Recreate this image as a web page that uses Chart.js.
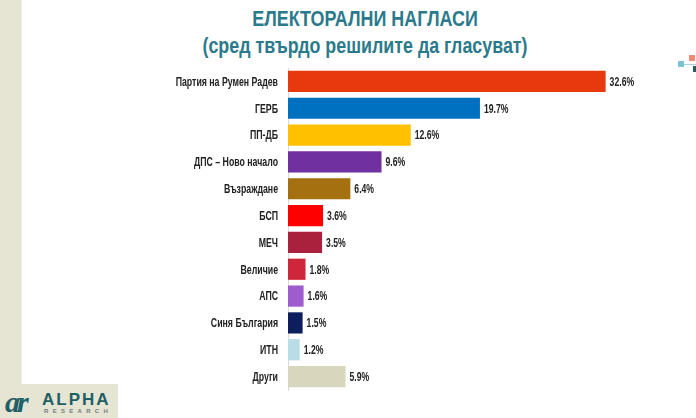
<!DOCTYPE html>
<html>
<head>
<meta charset="utf-8">
<script src="https://cdn.jsdelivr.net/npm/chart.js@4.4.1/dist/chart.umd.min.js"></script>
<style>
  html,body{margin:0;padding:0;background:#fff;}
  body{width:696px;height:418px;position:relative;overflow:hidden;font-family:"Liberation Sans",Arial,sans-serif;}
  #strip{position:absolute;left:0;top:0;width:21px;height:384px;background:#e6e4d3;border-right:1px solid #eeeee4;}
  #logo{position:absolute;left:0;top:384px;width:118px;height:34px;background:#e6e4d3;}
  #logo .ic{position:absolute;left:5px;top:1px;font:italic bold 30px "Liberation Serif",serif;color:#1f5f66;letter-spacing:-3px;}
  #logo .a{position:absolute;left:42px;top:6px;font:bold 17px "Liberation Sans",Arial,sans-serif;color:#1f5f66;letter-spacing:2px;}
  #logo .r{position:absolute;left:44px;top:24px;font:bold 6px "Liberation Sans",Arial,sans-serif;color:#6d7b7d;letter-spacing:4.3px;}
  .t{position:absolute;left:17px;width:696px;text-align:center;color:#2b7a8b;font-weight:bold;transform:scaleX(0.8);transform-origin:50% 0;}
  #t1{top:6px;font-size:22.4px;}
  #t2{top:33px;font-size:22.3px;}
  .sq{position:absolute;width:6px;height:6px;}
  #box{position:absolute;left:0;top:0;width:696px;height:418px;}
</style>
</head>
<body>
<div id="strip"></div>
<div class="t" id="t1">ЕЛЕКТОРАЛНИ НАГЛАСИ</div>
<div class="t" id="t2">(сред твърдо решилите да гласуват)</div>
<div style="position:absolute;left:682px;top:64px;width:14px;height:1px;background:#a9d3dc;"></div>
<div class="sq" style="left:678px;top:61px;background:#7cc3d3;"></div>
<div class="sq" style="left:689px;top:55px;background:#f08a72;"></div>
<div class="sq" style="left:693px;top:66px;background:#1f5f66;"></div>
<div id="box"><canvas id="chart"></canvas></div>
<div id="logo"><span class="ic">ɑr</span><span class="a">ALPHA</span><span class="r">RESEARCH</span></div>
<script>
const parties = ['Партия на Румен Радев','ГЕРБ','ПП-ДБ','ДПС – Ново начало','Възраждане','БСП','МЕЧ','Величие','АПС','Синя България','ИТН','Други'];
const shares  = [32.6,19.7,12.6,9.6,6.4,3.6,3.5,1.8,1.6,1.5,1.2,5.9];
const colors  = ['#e8380d','#0070c0','#ffc000','#7030a0','#a5700f','#ff0000','#a9213c','#d0263c','#9e5ccf','#0c1e5e','#b8dde6','#d8d6bc'];

// no narrow font installed, so squeeze the text horizontally
function narrowText(ctx, txt, x, y, align, sx){
  ctx.save();
  ctx.translate(x, y);
  ctx.scale(sx, 1);
  ctx.textAlign = align;
  ctx.fillText(txt, 0, 0);
  ctx.restore();
}

const textDraw = {
  id:'textDraw',
  afterDatasetsDraw(chart){
    const ctx=chart.ctx, meta=chart.getDatasetMeta(0), ys=chart.scales.y;
    ctx.save();
    ctx.font='bold 12px "Liberation Sans",Arial,sans-serif';
    ctx.fillStyle='#222';
    ctx.textBaseline='middle';
    chart.data.labels.forEach((l,i)=>narrowText(ctx, l, ys.right-10, ys.getPixelForValue(i)+1, 'right', 0.73));
    meta.data.forEach((b,i)=>narrowText(ctx, shares[i].toFixed(1)+'%', b.x+4, b.y+1, 'left', 0.72));
    ctx.restore();
  }
};

new Chart(document.getElementById('chart'),{
  type:'bar',
  data:{labels:parties,datasets:[{data:shares,backgroundColor:colors,barPercentage:0.79,categoryPercentage:1}]},
  options:{
    indexAxis:'y',responsive:true,maintainAspectRatio:false,animation:false,
    layout:{padding:{top:68,bottom:28,left:0,right:67}},
    plugins:{legend:{display:false},tooltip:{enabled:false}},
    scales:{
      x:{display:false,min:0,max:35},
      y:{
        afterFit(s){ s.width=288; },
        grid:{display:false},
        border:{display:true,color:'#d9d9d9'},
        ticks:{display:false}
      }
    }
  },
  plugins:[textDraw]
});
</script>
</body>
</html>
